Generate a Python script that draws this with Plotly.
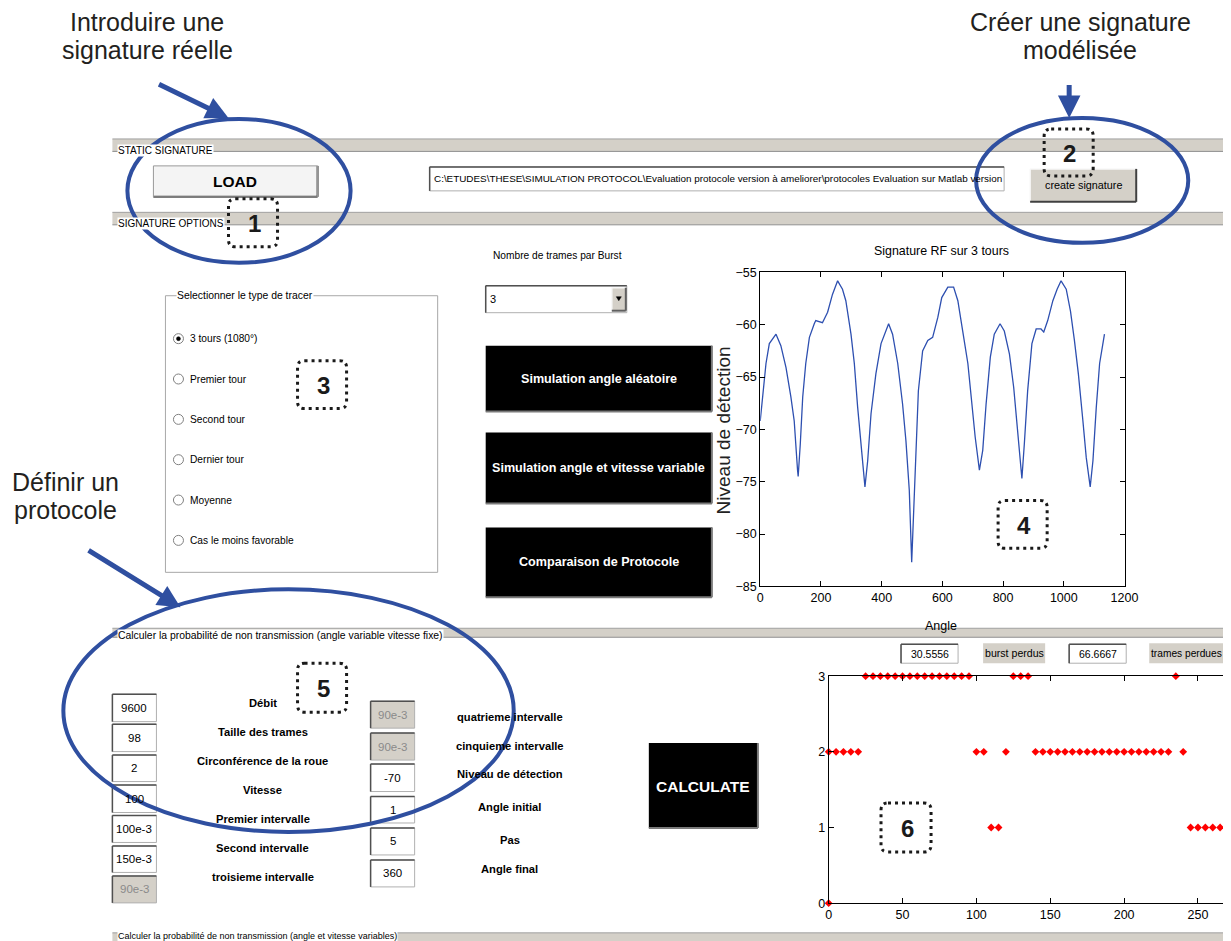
import plotly.graph_objects as go

W, H = 1231, 941          # size of the reference picture
OFF = 8                   # default page margin around the figure
FW, FH = 1240, 936        # figure size in page pixels
# measured page -> picture mapping of the viewer (picture = S * page + C)
S_X, S_Y, C_X, C_Y = 0.9855, 0.9864, 2.8, 6.0

# ---------------- data ----------------
sig_angle = [0, 19, 30, 52, 68, 85, 101, 112, 123, 125,
             132, 140, 150, 162, 178, 183, 205, 222, 238, 255,
             271, 282, 299, 310, 321, 332, 345, 354, 365, 381,
             398, 423, 436, 453, 469, 480, 491, 499, 505, 513,
             521, 535, 552, 568, 585, 598, 618, 637, 651, 667,
             684, 695, 708, 722, 733, 744, 758, 771, 790, 804,
             821, 835, 848, 862, 870, 881, 895, 909, 925, 934,
             947, 964, 978, 991, 1008, 1022, 1035, 1048, 1063, 1074,
             1087, 1096, 1107, 1118, 1134]
sig_level = [-69.2, -63.7, -61.8, -60.9, -62.0, -64.1, -66.9, -69.2, -73.9, -74.5,
             -71.4, -66.9, -63.7, -61.2, -59.9, -59.6, -59.8, -58.8, -57.1, -55.8,
             -56.6, -57.7, -60.9, -63.7, -67.9, -71.7, -75.5, -73.0, -68.5, -64.7,
             -61.8, -59.9, -60.9, -63.7, -67.6, -71.1, -75.8, -82.7, -78.1, -71.4,
             -66.3, -62.5, -61.5, -61.2, -59.3, -57.4, -56.4, -56.4, -57.7, -60.6,
             -63.7, -66.9, -70.7, -73.9, -72.0, -67.6, -63.1, -60.9, -59.9, -60.6,
             -62.8, -66.0, -70.1, -74.7, -71.4, -66.3, -61.8, -60.4, -60.4, -60.7,
             -59.6, -57.7, -56.6, -55.8, -56.6, -58.7, -61.5, -64.7, -69.2, -72.7,
             -75.5, -73.0, -67.9, -63.7, -60.9]

lost_angle = [0, 0, 5, 10, 15, 20,
              25, 30, 35, 40, 45, 50, 55, 60, 65, 70, 75, 80, 85, 90, 95,
              100, 105, 110, 115, 120, 125, 130, 135,
              140, 145, 150, 155, 160, 165, 170, 175, 180, 185, 190, 195,
              200, 205, 210, 215, 220, 225, 230,
              235, 240, 245, 250, 255, 260, 265, 270]
lost_frames = [0, 2, 2, 2, 2, 2,
               3, 3, 3, 3, 3, 3, 3, 3, 3, 3, 3, 3, 3, 3, 3,
               2, 2, 1, 1, 2, 3, 3, 3,
               2, 2, 2, 2, 2, 2, 2, 2, 2, 2, 2, 2,
               2, 2, 2, 2, 2, 2, 2,
               3, 2, 1, 1, 1, 1, 1, 1]

sig_xticks = [0, 200, 400, 600, 800, 1000, 1200]
sig_yticks = [-85, -80, -75, -70, -65, -60, -55]
lost_xticks = [0, 50, 100, 150, 200, 250]
lost_yticks = [0, 1, 2, 3]

radio_labels = ["3 tours (1080°)", "Premier tour", "Second tour", "Dernier tour",
                "Moyenne", "Cas le moins favorable"]
left_values = ["9600", "98", "2", "100", "100e-3", "150e-3", "90e-3"]
left_disabled = [False, False, False, False, False, False, True]
mid_labels = ["Débit", "Taille des trames", "Circonférence de la roue", "Vitesse",
              "Premier intervalle", "Second intervalle", "troisieme intervalle"]
right_values = ["90e-3", "90e-3", "-70", "1", "5", "360"]
right_disabled = [True, True, False, False, False, False]
right_labels = ["quatrieme intervalle", "cinquieme intervalle", "Niveau de détection",
                "Angle initial", "Pas", "Angle final"]
burst_lost = "30.5556"
frames_lost = "66.6667"
path_text = ("C:\\ETUDES\\THESE\\SIMULATION PROTOCOL\\Evaluation protocole version à "
             "ameliorer\\protocoles Evaluation sur Matlab version")

# ---------------- helpers ----------------
NARROW = "Liberation Sans Narrow, Arial Narrow, Liberation Sans, sans-serif"
ARIAL = "Liberation Sans, Arial, sans-serif"
GRAY = "#D4D0C8"
BLUE = "#2F4FA0"

def X(px):
    return ((px - C_X) / S_X - OFF) / FW

def Y(py):
    return 1 - ((py - C_Y) / S_Y - OFF) / FH

shapes = []
annots = []

def rect(x0, y0, x1, y1, fill=None, line=None, lw=1):
    shapes.append(dict(type="rect", xref="paper", yref="paper",
                       x0=X(x0), x1=X(x1), y0=Y(y1), y1=Y(y0),
                       fillcolor=fill or "rgba(0,0,0,0)",
                       line=dict(color=line or "rgba(0,0,0,0)", width=lw if line else 0)))

def seg(x0, y0, x1, y1, color, lw=1):
    shapes.append(dict(type="line", xref="paper", yref="paper",
                       x0=X(x0), y0=Y(y0), x1=X(x1), y1=Y(y1),
                       line=dict(color=color, width=lw)))

def ellipse(x0, y0, x1, y1, color=BLUE, lw=4):
    shapes.append(dict(type="circle", xref="paper", yref="paper",
                       x0=X(x0), x1=X(x1), y0=Y(y1), y1=Y(y0),
                       line=dict(color=color, width=lw)))

def circ(cx, cy, r, fill, line, lw=1):
    shapes.append(dict(type="circle", xref="paper", yref="paper",
                       x0=X(cx - r), x1=X(cx + r), y0=Y(cy + r), y1=Y(cy - r),
                       fillcolor=fill, line=dict(color=line, width=lw)))

def dotbox(x0, y0, x1, y1, r=7):
    p = (f"M {X(x0 + r)},{Y(y0)} L {X(x1 - r)},{Y(y0)} Q {X(x1)},{Y(y0)} {X(x1)},{Y(y0 + r)} "
         f"L {X(x1)},{Y(y1 - r)} Q {X(x1)},{Y(y1)} {X(x1 - r)},{Y(y1)} "
         f"L {X(x0 + r)},{Y(y1)} Q {X(x0)},{Y(y1)} {X(x0)},{Y(y1 - r)} "
         f"L {X(x0)},{Y(y0 + r)} Q {X(x0)},{Y(y0)} {X(x0 + r)},{Y(y0)} Z")
    shapes.append(dict(type="path", xref="paper", yref="paper", path=p,
                       line=dict(color="#1a1a1a", width=3, dash="3px,4px")))

def txt(x, y, s, size=12, fam=NARROW, color="black", xa="center", ya="middle",
        bold=False, bg=None, angle=0):
    annots.append(dict(x=X(x), y=Y(y), xref="paper", yref="paper",
                       text=f"<b>{s}</b>" if bold else s, showarrow=False,
                       xanchor=xa, yanchor=ya, textangle=angle,
                       font=dict(size=size, family=fam, color=color),
                       bgcolor=bg, borderpad=0))

def arrow(tx, ty, fx, fy):
    annots.append(dict(x=X(tx), y=Y(ty), xref="paper", yref="paper", text="",
                       showarrow=True, ax=(fx - tx) / S_X, ay=(fy - ty) / S_Y,
                       axref="pixel", ayref="pixel",
                       arrowhead=2, arrowsize=0.9, arrowwidth=5, arrowcolor=BLUE, standoff=0))

def sunken(x0, y0, x1, y1, fill="white"):
    rect(x0, y0, x1, y1, fill=fill, line="#b0b0b0")
    seg(x0, y0, x1, y0, "#505050", 1.5)
    seg(x0, y0, x0, y1, "#505050", 1.5)

def raised(x0, y0, x1, y1, fill, dark="#404040"):
    rect(x0, y0, x1, y1, fill=fill)
    seg(x0, y0, x1, y0, "#f8f8f8", 1.5)
    seg(x0, y0, x0, y1, "#f8f8f8", 1.5)
    seg(x0, y1, x1, y1, dark, 2)
    seg(x1, y0, x1, y1, dark, 2)

def bar(y0, y1, label, ly, size=10):
    rect(112, y0, W + 10, y1, fill=GRAY)
    seg(112, y0, W + 10, y0, "#a0a0a0", 1)
    seg(112, y1, W + 10, y1, "#909090", 1)
    txt(117, ly, label, size=size, xa="left", bg="white")

# ---------------- GUI panels ----------------
bar(138, 150.5, "STATIC SIGNATURE", 150)
bar(211.5, 224, "SIGNATURE OPTIONS", 223)
bar(628, 637, "Calculer la probabilité de non transmission (angle variable vitesse fixe)", 635, 10.4)
bar(933, 945, "Calculer la probabilité de non transmission (angle et vitesse variables)", 936, 9)

# LOAD button
raised(153, 165, 317, 196, "#F4F4F4")
rect(153, 165, 317, 196, line="#9a9a9a")
txt(235, 181, "LOAD", size=15.5, bold=True)

# path text box
sunken(429, 166, 1003, 190)
txt(432, 178, path_text, size=9.9, xa="left")

# create signature
raised(1029, 168, 1135, 201, GRAY)
txt(1082, 184, "create signature", size=10.8)

# radio group
rect(165, 295, 437, 572, line="#a8a8a8")
txt(176, 295, "Selectionner le type de tracer", size=10.4, xa="left", bg="white")
for i, lab in enumerate(radio_labels):
    cy = 338 + i * 40.4
    circ(178, cy, 5, "white", "#808080", 1)
    if i == 0:
        circ(178, cy, 2, "black", "black", 0.5)
    txt(189, cy, lab, size=10.2, xa="left")

# burst count dropdown
txt(491, 255, "Nombre de trames par Burst", size=10.2, xa="left")
sunken(485, 285, 626, 312)
txt(488, 298, "3", size=11, xa="left")
raised(611, 287, 625, 310, GRAY, dark="#606060")
shapes.append(dict(type="path", xref="paper", yref="paper",
                   path=f"M {X(615.5)},{Y(296)} L {X(620.5)},{Y(296)} L {X(618)},{Y(300)} Z",
                   fillcolor="black", line=dict(color="black", width=0.5)))

# black simulation buttons
for (y0, y1, lab) in [(345, 411, "Simulation angle aléatoire"),
                      (432, 503, "Simulation angle et vitesse variable"),
                      (527, 597, "Comparaison de Protocole")]:
    rect(485, y0, 711, y1, fill="black")
    seg(485, y1, 711, y1, "#7a7a7a", 2)
    seg(711, y0, 711, y1, "#7a7a7a", 2)
    txt(598, (y0 + y1) / 2, lab, size=12.6, color="white", bold=True)

# protocol parameters
left_rows = [(694, 721.5), (724, 751.5), (755, 781.5), (785, 812.5),
             (815.5, 842.5), (846, 872.5), (876, 903)]
for (y0, y1), val, dis in zip(left_rows, left_values, left_disabled):
    sunken(112, y0, 156, y1, fill=GRAY if dis else "white")
    txt(134, (y0 + y1) / 2, val, size=11.5, color="#8a8a8a" if dis else "black")
mid_y = [703, 732, 761, 790, 819, 848, 877]
for yy, lab in zip(mid_y, mid_labels):
    txt(262, yy, lab, size=11.2, bold=True)
right_rows = [(701, 728), (733, 760), (764, 791.5), (796.5, 823), (828, 855), (860, 887)]
for (y0, y1), val, dis in zip(right_rows, right_values, right_disabled):
    sunken(370, y0, 414, y1, fill=GRAY if dis else "white")
    txt(392, (y0 + y1) / 2, val, size=11.5, color="#8a8a8a" if dis else "black")
right_y = [717, 746, 774, 807, 840, 869]
for yy, lab in zip(right_y, right_labels):
    txt(509, yy, lab, size=11.2, bold=True)

# CALCULATE button
rect(648, 743, 757, 828, fill="black")
seg(648, 828, 757, 828, "#7a7a7a", 2)
seg(757, 743, 757, 828, "#7a7a7a", 2)
txt(702.5, 786, "CALCULATE", size=15.5, color="white", bold=True)

# result fields over the second chart
sunken(900, 644, 957, 663)
txt(928.5, 653.5, burst_lost, size=10.5)
rect(982, 643, 1044, 663, fill=GRAY)
txt(1013, 653, "burst perdus", size=10.6)
sunken(1068, 644, 1125, 663)
txt(1096.5, 653.5, frames_lost, size=10.5)
rect(1148, 643, 1222, 663, fill=GRAY)
txt(1185, 653, "trames perdues", size=10.2)

# chart titles / labels
txt(940, 250, "Signature RF sur 3 tours", size=12.4)
txt(723, 430, "Niveau de détection", size=19, fam=ARIAL, angle=-90, color="#222")
txt(940, 626, "Angle", size=12.5)

# ---------------- annotation layer (callouts) ----------------
ellipse(127, 118, 350, 262)
ellipse(975, 117, 1187, 242)
ellipse(63, 589, 513, 832)

arrow(228, 117, 158, 83)
arrow(1068, 117, 1068, 83)
arrow(180, 607, 88, 550)

txt(147, 21, "Introduire une", size=25, fam=ARIAL, color="#231F20")
txt(147, 49, "signature réelle", size=25, fam=ARIAL, color="#231F20")
txt(1079, 21, "Créer une signature", size=25, fam=ARIAL, color="#231F20")
txt(1079, 49, "modélisée", size=25, fam=ARIAL, color="#231F20")
txt(65, 482, "Définir un", size=25, fam=ARIAL, color="#231F20")
txt(65, 510, "protocole", size=25, fam=ARIAL, color="#231F20")

for (x0, y0, x1, y1, n) in [(228, 198, 277, 246, "1"), (1043, 128, 1092, 175, "2"),
                            (297, 360, 346, 408, "3"), (997, 500, 1046, 548, "4"),
                            (297, 663, 346, 712, "5"), (880, 803, 930, 852, "6")]:
    dotbox(x0, y0, x1, y1)
    txt((x0 + x1) / 2 + 1, (y0 + y1) / 2 + 1, n, size=24, fam=ARIAL, bold=True, color="#1a1a1a")

# ---------------- figure ----------------
fig = go.Figure()
fig.add_trace(go.Scatter(x=sig_angle, y=sig_level, mode="lines",
                         line=dict(color="#2D4FB0", width=1.3),
                         xaxis="x", yaxis="y", hoverinfo="skip"))
fig.add_trace(go.Scatter(x=lost_angle, y=lost_frames, mode="markers",
                         marker=dict(symbol="diamond", size=6, color="red"),
                         xaxis="x2", yaxis="y2", cliponaxis=False, hoverinfo="skip"))

axis_common = dict(showline=True, linecolor="black", linewidth=1, ticks="inside",
                   ticklen=5, tickcolor="black", showgrid=False, zeroline=False,
                   tickfont=dict(family=NARROW, size=12.5, color="black"))

px_per_unit = (1196.7 - 827.7) / 250.0
right_edge = S_X * (FW + OFF) + C_X
lost_xmax = (right_edge - 827.7) / px_per_unit

fig.update_layout(
    width=FW, height=FH, autosize=False,
    margin=dict(l=0, r=0, t=0, b=0),
    paper_bgcolor="white", plot_bgcolor="white",
    showlegend=False,
    xaxis=dict(domain=[X(759.3), X(1123.3)], range=[0, 1200], tickvals=sig_xticks,
               mirror="ticks", anchor="y", **axis_common),
    yaxis=dict(domain=[Y(586), Y(271.7)], range=[-85, -55], tickvals=sig_yticks,
               mirror="ticks", anchor="x", **axis_common),
    xaxis2=dict(domain=[X(827.7), 1.0], range=[0, lost_xmax], tickvals=lost_xticks,
                mirror="ticks", anchor="y2", **axis_common),
    yaxis2=dict(domain=[Y(903.3), Y(676)], range=[0, 3], tickvals=lost_yticks,
                anchor="x2", **axis_common),
    shapes=shapes,
    annotations=annots,
)

fig.write_html("out.html", config={"displayModeBar": False},
               post_script="document.documentElement.style.overflow='hidden';")
